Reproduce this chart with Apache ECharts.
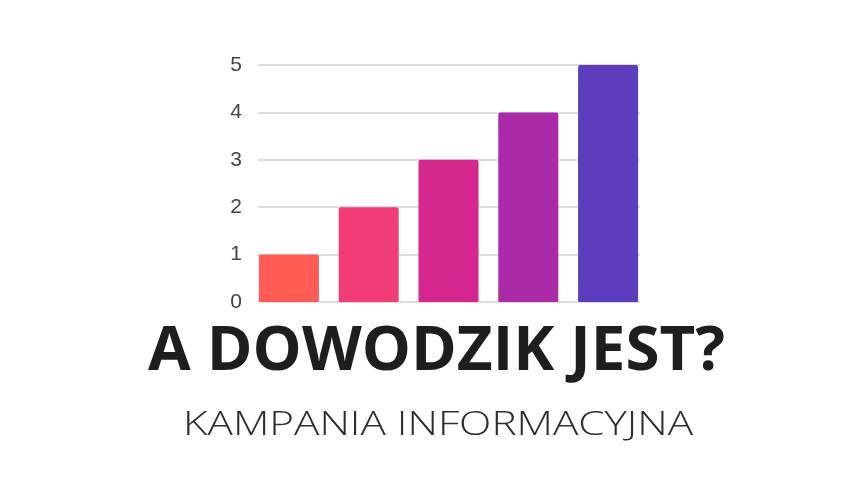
<!DOCTYPE html>
<html><head><meta charset="utf-8">
<script src="https://cdn.jsdelivr.net/npm/echarts@6/dist/echarts.min.js"></script>
<style>html,body{margin:0;padding:0;background:#fff}#c{width:862px;height:483px}</style>
</head><body><div id="c"></div>
<script>
const categories = ['1', '2', '3', '4', '5'];
const values = [1, 2, 3, 4, 5];
const barColors = ['#FF5C55', '#F13C76', '#D6278F', '#AA2AA8', '#5E3CBE'];
const yTicks = [0, 1, 2, 3, 4, 5];
const titleText = 'A DOWODZIK JEST?';
const subtitleText = 'KAMPANIA INFORMACYJNA';

const titleFont = '700 61px "Open Sans"';
const subFont = '300 33px "Open Sans"';
function measure(font, text) {
  const ctx = document.createElement('canvas').getContext('2d');
  ctx.font = font;
  return ctx.measureText(text).width;
}

function draw() {
  const titleScale = 577 / measure(titleFont, titleText);
  const subScale = 510 / measure(subFont, subtitleText);
  const chart = echarts.init(document.getElementById('c'));
  chart.setOption({
    backgroundColor: '#fff',
    animation: false,
    graphic: [
      { type: 'text', x: 148, y: 322, scaleX: titleScale, originX: 0, originY: 0,
        style: { text: titleText, font: titleFont, fill: '#1e1e1e', verticalAlign: 'top', align: 'left' } },
      { type: 'text', x: 183, y: 409, scaleX: subScale, originX: 0, originY: 0,
        style: { text: subtitleText, font: subFont, fill: '#2e2e2e', verticalAlign: 'top', align: 'left' } }
    ],
    grid: [
      { left: 249, right: 214, top: 65, bottom: 181 },
      { left: 258, right: 222, top: 65, bottom: 181 }
    ],
    xAxis: [
      { type: 'category', gridIndex: 0, data: categories, show: false },
      { type: 'category', gridIndex: 1, data: categories, show: false }
    ],
    yAxis: [
      { type: 'value', gridIndex: 0, min: 0, max: 5, interval: 1, show: false },
      { type: 'value', gridIndex: 1, min: yTicks[0], max: yTicks[yTicks.length - 1], interval: 1,
        axisLine: { show: false }, axisTick: { show: false },
        axisLabel: { color: '#444', fontSize: 21, fontFamily: 'Liberation Sans', margin: 16 },
        splitLine: { lineStyle: { color: '#d0d0d0', width: 1.5 } } }
    ],
    series: [{
      type: 'bar', xAxisIndex: 0, yAxisIndex: 0, barWidth: 60, z: 3,
      data: values.map((v, i) => ({ value: v, itemStyle: { color: barColors[i], borderRadius: [2, 2, 1, 1] } }))
    }]
  });
}
if (document.fonts && document.fonts.load) {
  Promise.all([document.fonts.load(titleFont), document.fonts.load(subFont)]).then(draw, draw);
} else { draw(); }
</script></body></html>
